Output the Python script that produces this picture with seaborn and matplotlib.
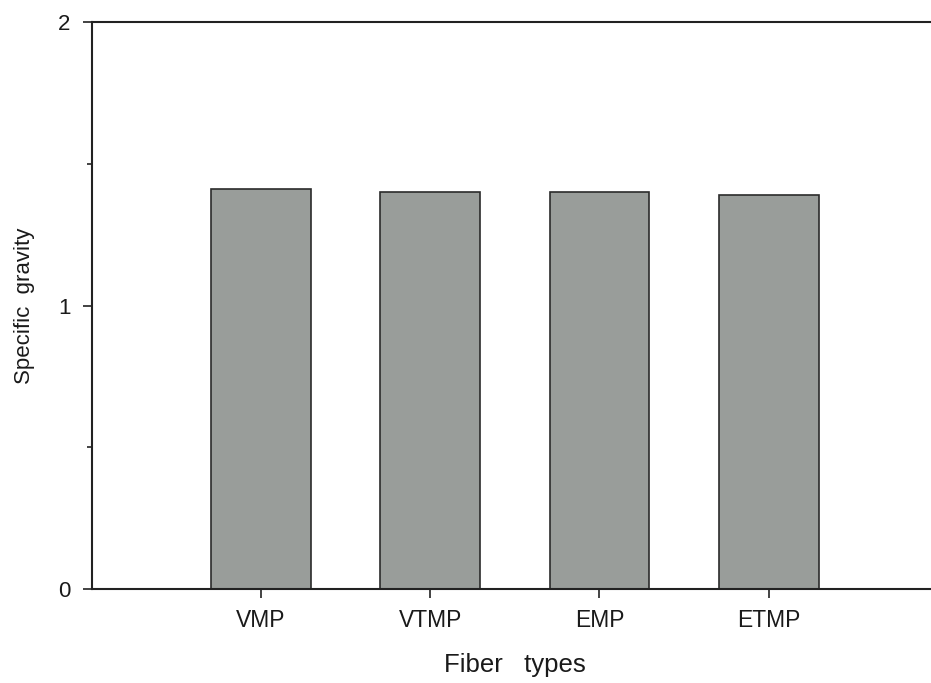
import pandas as pd
import seaborn as sns
import matplotlib.pyplot as plt
from matplotlib.ticker import MultipleLocator

# fiber types and their specific gravity
fiber_types = ['VMP', 'VTMP', 'EMP', 'ETMP']
specific_gravity = [1.41, 1.40, 1.40, 1.39]

df = pd.DataFrame({'Fiber types': fiber_types, 'Specific gravity': specific_gravity})

sns.set_style('ticks')
plt.rcParams['font.family'] = ['Liberation Sans', 'DejaVu Sans']

fig = plt.figure(figsize=(9.31, 6.83), dpi=100)
ax = fig.add_axes([0.0988, 0.1376, 0.9012, 0.8302])

sns.barplot(data=df, x='Fiber types', y='Specific gravity', color='#999d9a',
            saturation=1, width=0.59, edgecolor='#2b2b2b', linewidth=1.2, ax=ax)

ax.set_xlim(-1.0, 3.96)
ax.set_ylim(0, 2)
ax.yaxis.set_major_locator(MultipleLocator(1))
ax.yaxis.set_minor_locator(MultipleLocator(0.5))
ax.tick_params(axis='y', which='major', length=6.5, width=1.2, labelsize=16, pad=9,
               color='#222222', labelcolor='#1a1a1a')
ax.tick_params(axis='y', which='minor', length=3.6, width=1.2, color='#222222')
ax.tick_params(axis='x', length=6.5, width=1.2, labelsize=16.5, pad=8,
               color='#222222', labelcolor='#1a1a1a')

for side in ['left', 'bottom', 'top']:
    ax.spines[side].set_linewidth(1.5)
    ax.spines[side].set_color('#222222')
ax.spines['right'].set_visible(False)

ax.set_xlabel('Fiber   types', fontsize=18.5, color='#1a1a1a')
ax.set_ylabel('Specific  gravity', fontsize=16, color='#1a1a1a')
ax.xaxis.set_label_coords(0.504, -0.113)
ax.yaxis.set_label_coords(-0.068, 0.5)

plt.savefig('out.png', dpi=100)
